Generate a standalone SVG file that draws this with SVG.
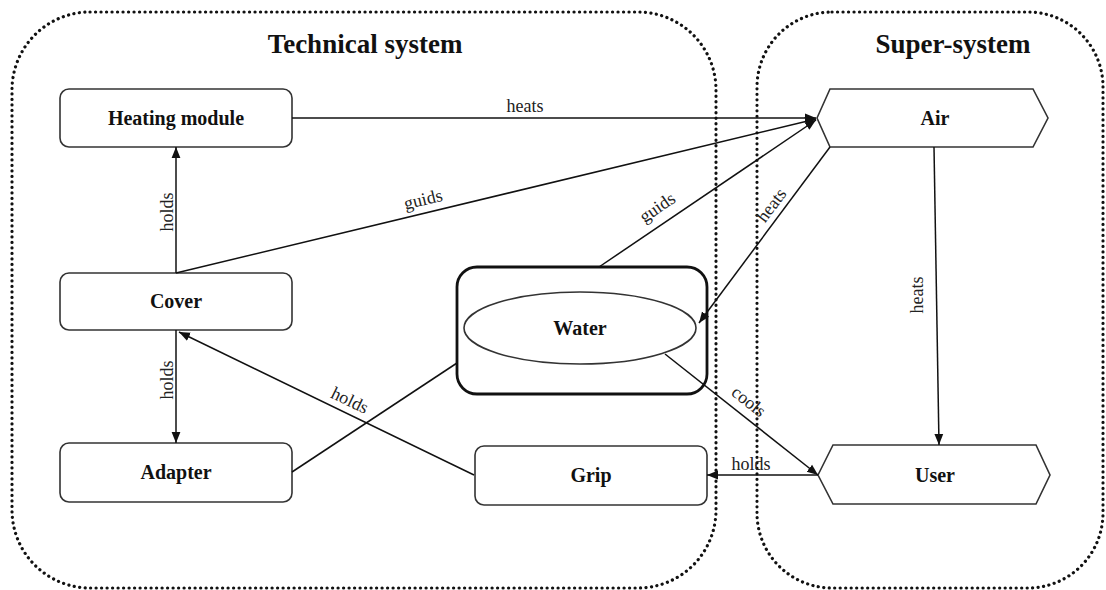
<svg xmlns="http://www.w3.org/2000/svg" width="1106" height="590" viewBox="0 0 1106 590">
<defs>
<marker id="arr" viewBox="0 0 10 10" refX="10" refY="5" markerWidth="11" markerHeight="11" markerUnits="userSpaceOnUse" orient="auto">
<path d="M0,1 L10,5 L0,9 Z" fill="#111"/>
</marker>
<style>
.boundary{fill:none;stroke:#111;stroke-width:3.2;stroke-dasharray:0.1 5.4;stroke-linecap:round}
.title{font-family:"Liberation Serif",serif;font-weight:bold;font-size:27px;fill:#111;text-anchor:middle}
.node{fill:#fff;stroke:#333;stroke-width:1.6}
.thick{fill:#fff;stroke:#111;stroke-width:2.8}
.ntext{font-family:"Liberation Serif",serif;font-weight:bold;font-size:20px;fill:#111;text-anchor:middle}
.edge{fill:none;stroke:#111;stroke-width:1.5}
.arrow{marker-end:url(#arr)}
.lbl{font-family:"Liberation Serif",serif;font-size:18px;fill:#222;text-anchor:middle}
</style>
</defs>
<rect width="1106" height="590" fill="#fff"/>
<g id="technical-system">
<rect class="boundary" x="12" y="12" width="704" height="576" rx="78" ry="78"/>
<text class="title" x="365" y="53">Technical system</text>
</g>
<g id="super-system">
<rect class="boundary" x="757" y="12" width="346" height="576" rx="75" ry="75"/>
<text class="title" x="953" y="53">Super-system</text>
</g>
<g id="heating-module">
<rect class="node" x="60" y="89" width="232" height="58" rx="9"/>
<text class="ntext" x="176" y="125">Heating module</text>
</g>
<g id="cover">
<rect class="node" x="60" y="273" width="232" height="57" rx="9"/>
<text class="ntext" x="176" y="308">Cover</text>
</g>
<g id="adapter">
<rect class="node" x="60" y="443" width="232" height="59" rx="9"/>
<text class="ntext" x="176" y="479">Adapter</text>
</g>
<g id="grip">
<rect class="node" x="475" y="446" width="232" height="59" rx="9"/>
<text class="ntext" x="591" y="482">Grip</text>
</g>
<g id="water">
<rect class="thick" x="457" y="267" width="250" height="127" rx="20"/>
<ellipse class="node" cx="580" cy="328" rx="116" ry="36"/>
<text class="ntext" x="580" y="335">Water</text>
</g>
<g id="air">
<polygon class="node" points="817,118 830,89 1033,89 1048,118 1033,147 830,147"/>
<text class="ntext" x="935" y="125">Air</text>
</g>
<g id="user">
<polygon class="node" points="818,475 833,445 1036,445 1050,475 1036,504 833,504"/>
<text class="ntext" x="935" y="482">User</text>
</g>
<g id="connectors">
<line class="edge arrow" x1="292" y1="118" x2="816" y2="118"/>
<line class="edge arrow" x1="176" y1="273" x2="816" y2="119"/>
<line class="edge arrow" x1="599" y1="267" x2="816" y2="120"/>
<line class="edge arrow" x1="830" y1="147" x2="699" y2="323"/>
<line class="edge arrow" x1="934" y1="147" x2="939" y2="445"/>
<line class="edge arrow" x1="665" y1="354" x2="818" y2="475"/>
<line class="edge arrow" x1="818" y1="475" x2="707" y2="475"/>
<line class="edge arrow" x1="176" y1="273" x2="176" y2="147"/>
<line class="edge arrow" x1="176" y1="330" x2="176" y2="443"/>
<line class="edge arrow" x1="474" y1="475" x2="179" y2="332"/>
<line class="edge" x1="292" y1="472" x2="457" y2="363"/>
<text class="lbl" x="525" y="112">heats</text>
<text class="lbl" transform="translate(423,199) rotate(-13.6)" dy="0.35em">guids</text>
<text class="lbl" transform="translate(657,207) rotate(-34.3)" dy="0.35em">guids</text>
<text class="lbl" transform="translate(771,205) rotate(-53)" dy="0.35em">heats</text>
<text class="lbl" transform="translate(917,295) rotate(-90)" dy="0.35em">heats</text>
<text class="lbl" transform="translate(749,401) rotate(38.3)" dy="0.35em">cools</text>
<text class="lbl" x="751" y="470">holds</text>
<text class="lbl" transform="translate(167,212) rotate(-90)" dy="0.35em">holds</text>
<text class="lbl" transform="translate(167,380) rotate(-90)" dy="0.35em">holds</text>
<text class="lbl" transform="translate(350,400) rotate(25.8)" dy="0.35em">holds</text>
</g>
</svg>
